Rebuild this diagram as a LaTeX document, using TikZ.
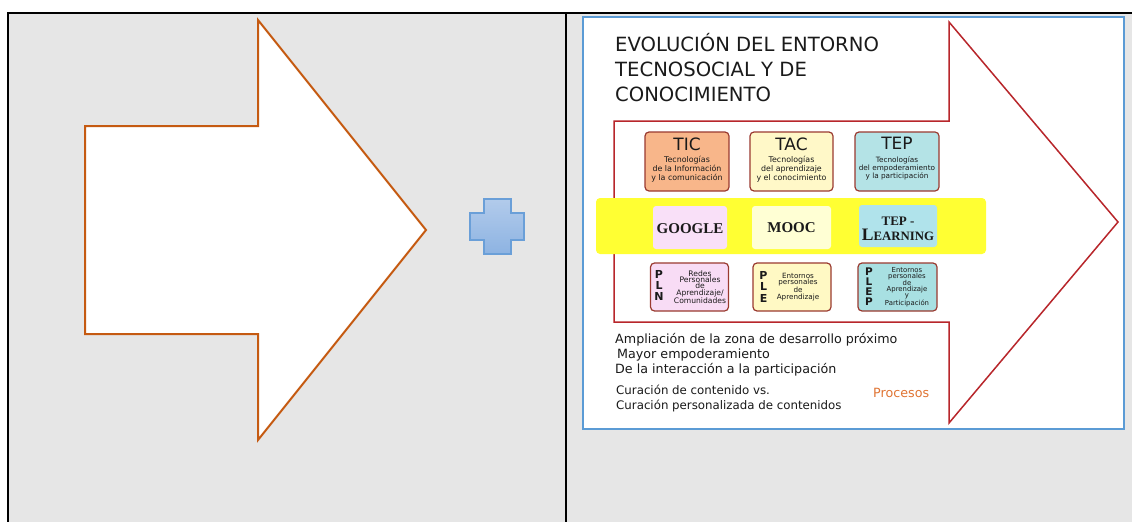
\documentclass[tikz,border=0pt]{standalone}
\usepackage{fontspec}
\setmainfont{DejaVu Sans}
\newfontfamily\serifb{Liberation Serif}
\definecolor{cellgrey}{HTML}{E6E6E6}
\definecolor{arroworange}{HTML}{C55A11}
\definecolor{frameblue}{HTML}{5B9BD5}
\definecolor{arrowred}{HTML}{B8262B}
\definecolor{boxborder}{HTML}{9A3A30}
\definecolor{ticfill}{HTML}{F8B68A}
\definecolor{tacfill}{HTML}{FFF8C8}
\definecolor{tepfill}{HTML}{B4E3E6}
\definecolor{bandyellow}{HTML}{FFFF33}
\definecolor{googlefill}{HTML}{F9E0F8}
\definecolor{moocfill}{HTML}{FFFFD4}
\definecolor{learnfill}{HTML}{B0E3EB}
\definecolor{plnfill}{HTML}{F8DCF5}
\definecolor{plefill}{HTML}{FFF9C4}
\definecolor{plepfill}{HTML}{A8E0E2}
\definecolor{procorange}{HTML}{E07433}
\definecolor{textdark}{HTML}{1A1A1A}
\definecolor{plustop}{HTML}{B2CBEB}
\definecolor{plusbot}{HTML}{8DB3E2}
\definecolor{plusline}{HTML}{6A9FD8}
\tikzset{
  tbox/.style={draw=boxborder, line width=1.2pt, rounded corners=4pt, inner sep=0pt},
  sbox/.style={rounded corners=3pt, inner sep=0pt, minimum width=#1},
  headtxt/.style={font=\fontsize{17}{20}\selectfont, text=textdark, inner sep=0pt},
  desctxt/.style={font=\fontsize{7.9}{9}\selectfont, text=textdark, align=center, inner sep=0pt},
  serftxt/.style={font=\serifb\bfseries\fontsize{15}{17}\selectfont, text=textdark, inner sep=0pt, anchor=base},
  lettxt/.style={font=\bfseries\fontsize{11}{10.6}\selectfont, text=textdark, align=center, inner sep=0pt},
  tinytxt/.style={font=\fontsize{7.2}{6.3}\selectfont, text=textdark, align=center, inner sep=0pt},
  bodytxt/.style={font=\fontsize{12.7}{14}\selectfont, text=textdark, anchor=base west, inner sep=0pt},
}
\begin{document}
\begin{tikzpicture}[x=1pt,y=-1pt]
\useasboundingbox (0,0) rectangle (1132,522);
\fill[white] (0,0) rectangle (1132,522);
\fill[cellgrey] (8,13) rectangle (1132,522);
\draw[black, line width=1.5pt] (1132,13) -- (8,13) -- (8,522);
\draw[black, line width=1.5pt] (566,13) -- (566,522);

% left arrow
\draw[arroworange, line width=2pt, fill=white, line join=miter]
  (85,126) -- (258,126) -- (258,20) -- (426,230) -- (258,440) -- (258,334) -- (85,334) -- cycle;

% plus sign
\draw[plusline, line width=1.5pt, top color=plustop, bottom color=plusbot]
  (484,199) -- (511,199) -- (511,213) -- (524,213) -- (524,240) -- (511,240) -- (511,254)
  -- (484,254) -- (484,240) -- (470,240) -- (470,213) -- (484,213) -- cycle;

% right picture frame
\draw[frameblue, line width=1.8pt, fill=white] (583,17) rectangle (1124,429);

% red arrow
\draw[arrowred, line width=1.5pt, line join=miter]
  (614,121) -- (949,121) -- (949,22) -- (1118,222) -- (949,423) -- (949,322) -- (614,322) -- cycle;

% title
\node[font=\fontsize{19.6}{25}\selectfont, text=textdark, align=left, anchor=north west, inner sep=0pt] (title)
  at (615,33) {EVOLUCIÓN DEL ENTORNO\\TECNOSOCIAL Y DE\\CONOCIMIENTO};

% top row
\node[tbox, fill=ticfill, minimum width=84, minimum height=59] (tic) at (687,161.5) {};
\node[tbox, fill=tacfill, minimum width=83, minimum height=59] (tac) at (791.5,161.5) {};
\node[tbox, fill=tepfill, minimum width=84, minimum height=59] (tep) at (897,161.5) {};
\node[headtxt] (ticH) at (687,144) {TIC};
\node[headtxt] (tacH) at (791.5,144) {TAC};
\node[headtxt] (tepH) at (897,143) {TEP};
\node[desctxt] (ticD) at (687,169) {Tecnologías\\de la Información\\y la comunicación};
\node[desctxt] (tacD) at (791.5,169) {Tecnologías\\del aprendizaje\\y el conocimiento};
\node[desctxt, font=\fontsize{7.3}{8}\selectfont] (tepD) at (897,168) {Tecnologías\\del empoderamiento\\y la participación};

% yellow band
\fill[bandyellow, rounded corners=4pt] (596,198) rectangle (986,254);
\node[sbox=74, fill=googlefill, minimum height=43] (google) at (690,227.5) {};
\node[sbox=79, fill=moocfill, minimum height=43] (mooc) at (791.5,227.5) {};
\node[sbox=78, fill=learnfill, minimum height=42] (learn) at (898,226) {};
\node[serftxt] (googleT) at (690,233) {GOOGLE};
\node[serftxt] (moocT) at (791.5,232.5) {MOOC};
\node[serftxt, font=\serifb\bfseries\fontsize{13}{15}\selectfont] (learnT1) at (898,225) {TEP -};
\node[serftxt, font=\serifb\bfseries\fontsize{17.5}{17}\selectfont] (learnT2) at (898,240) {L{\fontsize{12.8}{15}\selectfont EARNING}};

% bottom row
\node[tbox, fill=plnfill, minimum width=78, minimum height=48] (pln) at (689.5,287) {};
\node[tbox, fill=plefill, minimum width=78, minimum height=48] (ple) at (792,287) {};
\node[tbox, fill=plepfill, minimum width=79, minimum height=48] (plep) at (897.5,287) {};
\node[lettxt] (plnL) at (659,285.5) {P\\L\\N};
\node[tinytxt, font=\fontsize{7.6}{6.4}\selectfont] (plnD) at (700,287) {Redes\\Personales\\de\\Aprendizaje/\\Comunidades};
\node[lettxt, font=\bfseries\fontsize{11}{11.5}\selectfont] (pleL) at (763.5,286.5) {P\\L\\E};
\node[tinytxt, font=\fontsize{7.2}{6.2}\selectfont] (pleD) at (798,287) {Entornos\\personales\\de\\Aprendizaje};
\node[lettxt, font=\bfseries\fontsize{10.5}{10}\selectfont] (plepL) at (869,287) {P\\L\\E\\P};
\node[tinytxt, font=\fontsize{6.9}{5.9}\selectfont] (plepD) at (907,287) {Entornos\\personales\\de\\Aprendizaje\\y\\Participación};

% bottom text
\node[bodytxt] (l1) at (615,343) {Ampliación de la zona de desarrollo próximo};
\node[bodytxt] (l2) at (617,358) {Mayor empoderamiento};
\node[bodytxt] (l3) at (615,373) {De la interacción a la participación};
\node[bodytxt, font=\fontsize{11.8}{14}\selectfont] (l4) at (616,394) {Curación de contenido vs.};
\node[bodytxt, font=\fontsize{11.8}{14}\selectfont] (l5) at (616,409) {Curación personalizada de contenidos};
\node[bodytxt, text=procorange] (proc) at (873,397) {Procesos};
\end{tikzpicture}
\end{document}
